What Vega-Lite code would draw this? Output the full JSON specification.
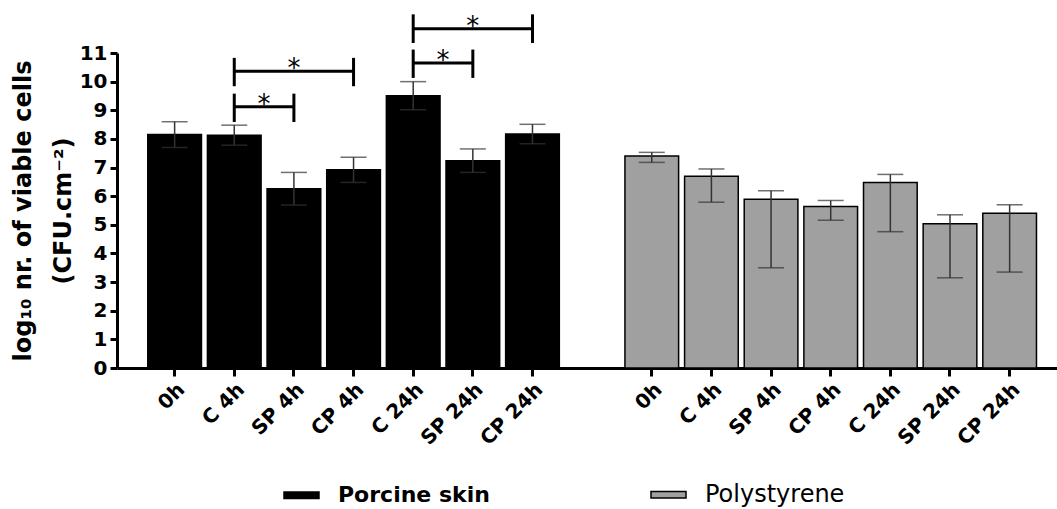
{
  "$schema": "https://vega.github.io/schema/vega-lite/v6.json",
  "autosize": "none",
  "width": 940,
  "height": 315,
  "padding": {"left": 117, "top": 53, "right": 0, "bottom": 141},
  "background": "white",
  "config": {
    "view": {"stroke": null},
    "font": "DejaVu Sans",
    "axis": {
      "domainColor": "black",
      "domainWidth": 3,
      "tickColor": "black",
      "tickWidth": 3,
      "labelColor": "black",
      "labelFont": "DejaVu Sans",
      "labelFontWeight": "bold",
      "titleColor": "black",
      "titleFont": "DejaVu Sans",
      "titleFontWeight": "bold",
      "grid": false
    }
  },
  "datasets": {
    "bars": [
      {"cat": "P|0h", "group": "Porcine skin", "mean": 8.15, "lo": 7.70, "hi": 8.60},
      {"cat": "P|C 4h", "group": "Porcine skin", "mean": 8.13, "lo": 7.78, "hi": 8.48},
      {"cat": "P|SP 4h", "group": "Porcine skin", "mean": 6.26, "lo": 5.69, "hi": 6.83},
      {"cat": "P|CP 4h", "group": "Porcine skin", "mean": 6.92, "lo": 6.48, "hi": 7.36},
      {"cat": "P|C 24h", "group": "Porcine skin", "mean": 9.51, "lo": 9.02, "hi": 10.00},
      {"cat": "P|SP 24h", "group": "Porcine skin", "mean": 7.24, "lo": 6.83, "hi": 7.65},
      {"cat": "P|CP 24h", "group": "Porcine skin", "mean": 8.17, "lo": 7.83, "hi": 8.51},
      {"cat": "S|0h", "group": "Polystyrene", "mean": 7.40, "lo": 7.18, "hi": 7.53},
      {"cat": "S|C 4h", "group": "Polystyrene", "mean": 6.70, "lo": 5.79, "hi": 6.95},
      {"cat": "S|SP 4h", "group": "Polystyrene", "mean": 5.89, "lo": 3.50, "hi": 6.19},
      {"cat": "S|CP 4h", "group": "Polystyrene", "mean": 5.64, "lo": 5.16, "hi": 5.85},
      {"cat": "S|C 24h", "group": "Polystyrene", "mean": 6.48, "lo": 4.76, "hi": 6.76},
      {"cat": "S|SP 24h", "group": "Polystyrene", "mean": 5.04, "lo": 3.15, "hi": 5.35},
      {"cat": "S|CP 24h", "group": "Polystyrene", "mean": 5.40, "lo": 3.35, "hi": 5.70}
    ],
    "brackets": [
      {"from": "P|C 4h", "to": "P|SP 4h", "level": 9.12},
      {"from": "P|C 4h", "to": "P|CP 4h", "level": 10.36},
      {"from": "P|C 24h", "to": "P|SP 24h", "level": 10.65},
      {"from": "P|C 24h", "to": "P|CP 24h", "level": 11.85}
    ],
    "bracketEnds": [
      {"cat": "P|C 4h", "lo": 8.59, "hi": 9.58},
      {"cat": "P|SP 4h", "lo": 8.59, "hi": 9.58},
      {"cat": "P|C 4h", "lo": 9.84, "hi": 10.83},
      {"cat": "P|CP 4h", "lo": 9.84, "hi": 10.83},
      {"cat": "P|C 24h", "lo": 10.13, "hi": 11.12},
      {"cat": "P|SP 24h", "lo": 10.13, "hi": 11.12},
      {"cat": "P|C 24h", "lo": 11.35, "hi": 12.35},
      {"cat": "P|CP 24h", "lo": 11.35, "hi": 12.35}
    ],
    "starsCenter": [
      {"cat": "P|SP 4h", "level": 10.36, "label": "*"},
      {"cat": "P|SP 24h", "level": 11.85, "label": "*"}
    ],
    "starsMid": [
      {"cat": "P|C 4h", "level": 9.12, "label": "*"},
      {"cat": "P|C 24h", "level": 10.65, "label": "*"}
    ]
  },
  "encoding": {
    "y": {
      "type": "quantitative",
      "scale": {"domain": [0, 11], "nice": false, "zero": true},
      "axis": {
        "values": [0, 1, 2, 3, 4, 5, 6, 7, 8, 9, 10, 11],
        "labelOverlap": false,
        "tickSize": 7,
        "labelFontSize": 20,
        "labelPadding": 3,
        "labelSeparation": 0,
        "labelBound": false,
        "title": ["log₁₀ nr. of viable cells", "(CFU.cm⁻²)"],
        "titleFontSize": 24,
        "titleLineHeight": 40,
        "titlePadding": 4
      }
    }
  },
  "layer": [
    {
      "data": {"name": "bars"},
      "mark": {"type": "bar", "stroke": "black", "strokeWidth": 1.5},
      "encoding": {
        "x": {
          "field": "cat",
          "type": "nominal",
          "sort": null,
          "scale": {
            "type": "band",
            "domain": ["P|0h", "P|C 4h", "P|SP 4h", "P|CP 4h", "P|C 24h", "P|SP 24h", "P|CP 24h", "gap", "S|0h", "S|C 4h", "S|SP 4h", "S|CP 4h", "S|C 24h", "S|SP 24h", "S|CP 24h"],
            "paddingInner": 0.1,
            "paddingOuter": 0.43,
            "align": 0.6,
            "round": false
          },
          "axis": {
            "title": null,
            "values": ["P|0h", "P|C 4h", "P|SP 4h", "P|CP 4h", "P|C 24h", "P|SP 24h", "P|CP 24h", "S|0h", "S|C 4h", "S|SP 4h", "S|CP 4h", "S|C 24h", "S|SP 24h", "S|CP 24h"],
            "labelExpr": "slice(datum.value, 2)",
            "labelAngle": -45,
            "labelFontSize": 20,
            "tickSize": 8,
            "labelPadding": 3
          }
        },
        "y": {"field": "mean"},
        "color": {
          "field": "group",
          "type": "nominal",
          "scale": {"domain": ["Porcine skin", "Polystyrene"], "range": ["#000000", "#a0a0a0"]},
          "legend": {
            "orient": "none",
            "legendX": 166,
            "legendY": 423,
            "direction": "horizontal",
            "title": null,
            "padding": 0,
            "symbolType": "M-1,-0.18H1V0.18H-1Z",
            "symbolSize": 1225,
            "symbolStrokeColor": "black",
            "symbolStrokeWidth": 1.5,
            "labelOffset": 18,
            "labelLimit": 400,
            "columnPadding": 158,
            "labelFont": "DejaVu Sans",
            "labelFontSize": 23,
            "labelColor": "black",
            "encode": {
              "labels": {
                "update": {
                  "fontWeight": {"signal": "datum.label === 'Porcine skin' ? 'bold' : 'normal'"},
                  "fontSize": {"signal": "datum.label === 'Porcine skin' ? 22 : 24"}
                }
              }
            }
          }
        }
      }
    },
    {
      "data": {"name": "bars"},
      "mark": {"type": "rule", "color": "#333333", "strokeWidth": 1.5},
      "encoding": {
        "x": {"field": "cat", "type": "nominal"},
        "y": {"field": "lo"},
        "y2": {"field": "hi"}
      }
    },
    {
      "data": {"name": "bars"},
      "mark": {"type": "tick", "color": "#333333", "thickness": 1.5, "size": 26},
      "encoding": {
        "x": {"field": "cat", "type": "nominal"},
        "y": {"field": "hi"}
      }
    },
    {
      "data": {"name": "bars"},
      "mark": {"type": "tick", "color": "#333333", "thickness": 1.5, "size": 26},
      "encoding": {
        "x": {"field": "cat", "type": "nominal"},
        "y": {"field": "lo"}
      }
    },
    {
      "data": {"name": "brackets"},
      "mark": {"type": "rule", "color": "black", "strokeWidth": 3},
      "encoding": {
        "x": {"field": "from", "type": "nominal"},
        "x2": {"field": "to"},
        "y": {"field": "level"}
      }
    },
    {
      "data": {"name": "bracketEnds"},
      "mark": {"type": "rule", "color": "black", "strokeWidth": 3},
      "encoding": {
        "x": {"field": "cat", "type": "nominal"},
        "y": {"field": "lo"},
        "y2": {"field": "hi"}
      }
    },
    {
      "data": {"name": "starsCenter"},
      "mark": {"type": "text", "fontSize": 26, "font": "DejaVu Sans", "color": "black", "baseline": "alphabetic", "dy": 6},
      "encoding": {
        "x": {"field": "cat", "type": "nominal"},
        "y": {"field": "level"},
        "text": {"field": "label"}
      }
    },
    {
      "data": {"name": "starsMid"},
      "mark": {"type": "text", "fontSize": 26, "font": "DejaVu Sans", "color": "black", "baseline": "alphabetic", "dy": 6},
      "encoding": {
        "x": {"field": "cat", "type": "nominal", "bandPosition": 1.055},
        "y": {"field": "level"},
        "text": {"field": "label"}
      }
    }
  ]
}
